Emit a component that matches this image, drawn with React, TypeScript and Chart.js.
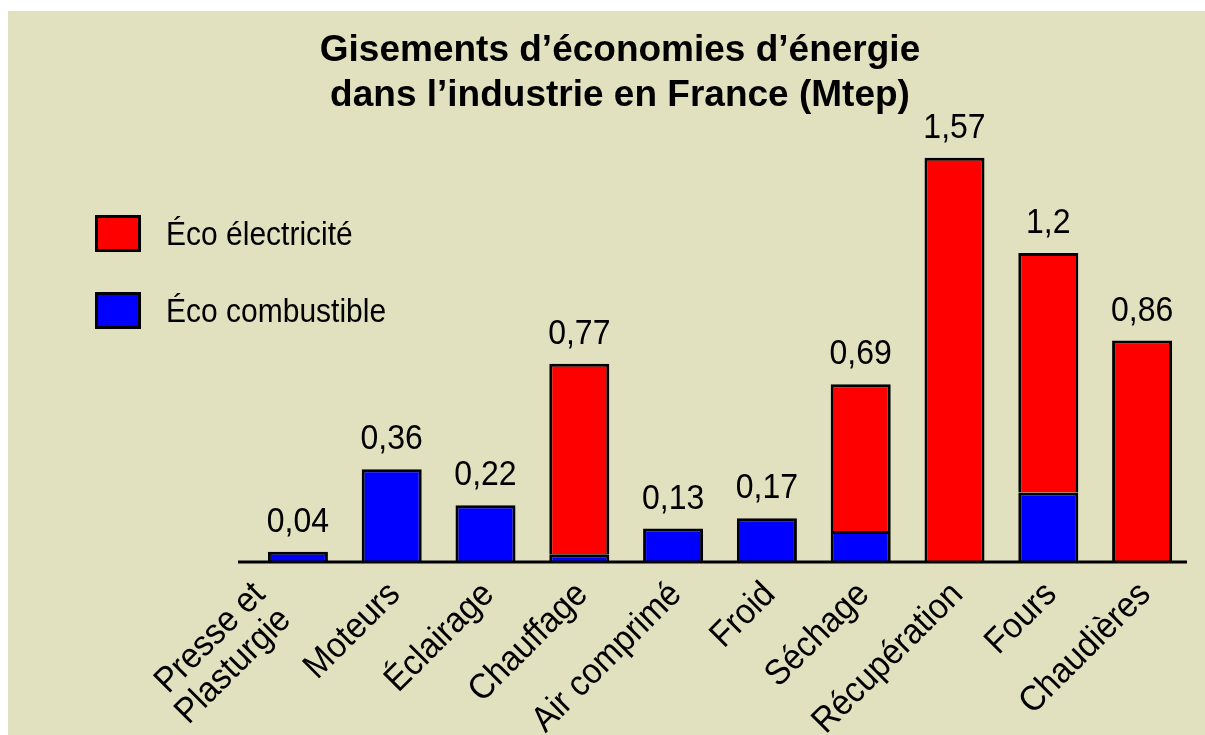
import React, { useEffect, useRef } from "react";
import { Chart, registerables } from "chart.js";

Chart.register(...registerables);

// ---- Data ----
const categories: (string | string[])[] = [
  ["Presse et", "Plasturgie"],
  "Moteurs",
  "Éclairage",
  "Chauffage",
  "Air comprimé",
  "Froid",
  "Séchage",
  "Récupération",
  "Fours",
  "Chaudières",
];
const ecoCombustible: (number | null)[] = [0.04, 0.36, 0.22, 0.03, 0.13, 0.17, 0.12, null, 0.27, null];
const ecoElectricite: (number | null)[] = [null, null, null, 0.74, null, null, 0.57, 1.57, 0.93, 0.86];
const seriesNames = ["Éco combustible", "Éco électricité"];
const titleLines = ["Gisements d’économies d’énergie", "dans l’industrie en France (Mtep)"];
const yMax = 1.7;

const FONT = '"Liberation Sans", Arial, Helvetica, sans-serif';
const STRETCH = 1.08;

const decorPlugin = {
  id: "decor",
  afterDatasetsDraw(chart: any) {
    const { ctx, chartArea, scales } = chart;
    const xs = scales.x;
    const ys = scales.y;
    const y0 = ys.getPixelForValue(0);
    ctx.save();

    // baseline
    ctx.strokeStyle = "#000";
    ctx.lineWidth = 3;
    ctx.beginPath();
    ctx.moveTo(chartArea.left - 13, y0);
    ctx.lineTo(chartArea.right - 2, y0);
    ctx.stroke();

    // totals above bars
    ctx.fillStyle = "#000";
    ctx.font = `32px ${FONT}`;
    ctx.textAlign = "center";
    ctx.textBaseline = "alphabetic";
    chart.data.labels.forEach((_: any, i: number) => {
      let total = 0;
      chart.data.datasets.forEach((ds: any) => {
        const v = ds.data[i];
        if (typeof v === "number") total += v;
      });
      const text = (Math.round(total * 100) / 100).toString().replace(".", ",");
      ctx.save();
      ctx.translate(xs.getPixelForValue(i), ys.getPixelForValue(total) - 20);
      ctx.scale(1, STRETCH);
      ctx.fillText(text, 0, 0);
      ctx.restore();
    });

    // rotated category labels
    ctx.font = `33px ${FONT}`;
    ctx.textAlign = "right";
    ctx.textBaseline = "middle";
    const lh = 36;
    chart.data.labels.forEach((lab: any, i: number) => {
      const lines: string[] = Array.isArray(lab) ? lab : [lab];
      const multi = lines.length > 1;
      ctx.save();
      ctx.translate(xs.getPixelForValue(i) + 3, y0 + 27);
      ctx.rotate(-Math.PI / 4);
      lines.forEach((ln, k) => {
        ctx.save();
        ctx.translate(multi ? -29 : 0, (k - (lines.length - 1) / 2) * lh + (multi ? -11 : 0));
        ctx.scale(1, STRETCH);
        ctx.fillText(ln, 0, 0);
        ctx.restore();
      });
      ctx.restore();
    });

    // legend (electricité first, then combustible)
    const items = chart.data.datasets.slice().reverse();
    ctx.font = `30px ${FONT}`;
    ctx.textAlign = "left";
    ctx.textBaseline = "alphabetic";
    items.forEach((ds: any, k: number) => {
      const bx = 87;
      const by = 204 + k * 77;
      ctx.fillStyle = ds.backgroundColor;
      ctx.fillRect(bx, by, 46, 37);
      ctx.lineWidth = 3;
      ctx.strokeStyle = "#000";
      ctx.strokeRect(bx + 1.5, by + 1.5, 43, 34);
      ctx.fillStyle = "#000";
      ctx.save();
      ctx.translate(158, by + 30);
      ctx.scale(1, STRETCH);
      ctx.fillText(ds.label, 0, 0);
      ctx.restore();
    });

    ctx.restore();
  },
};

export default function App() {
  const ref = useRef<HTMLCanvasElement>(null);

  useEffect(() => {
    if (!ref.current) return;
    const chart = new Chart(ref.current, {
      type: "bar",
      data: {
        labels: categories as any,
        datasets: [
          {
            label: seriesNames[0],
            data: ecoCombustible,
            backgroundColor: "#0000FF",
            borderColor: "#000000",
            borderWidth: 3,
          },
          {
            label: seriesNames[1],
            data: ecoElectricite,
            backgroundColor: "#FF0000",
            borderColor: "#000000",
            borderWidth: 3,
          },
        ],
      },
      options: {
        responsive: false,
        animation: false,
        layout: { padding: { left: 43, right: 16, top: 0, bottom: 173 } },
        datasets: { bar: { barPercentage: 0.64, categoryPercentage: 1 } } as any,
        scales: {
          x: { display: false, stacked: true },
          y: {
            stacked: true,
            min: 0,
            max: yMax,
            display: true,
            grid: { display: false },
            border: { display: false },
            ticks: { display: false },
            afterFit: (s: any) => {
              s.width = 200;
            },
          } as any,
        },
        plugins: {
          legend: { display: false },
          tooltip: { enabled: false },
          title: {
            display: true,
            text: titleLines,
            color: "#000000",
            font: { family: FONT, size: 37, weight: "bold", lineHeight: 1.22 },
            padding: { top: 17, bottom: 6 },
          },
        },
      },
      plugins: [decorPlugin],
    });
    return () => chart.destroy();
  }, []);

  return (
    <div
      style={{
        position: "fixed",
        left: 8,
        top: 11,
        width: 1197,
        height: 724,
        background: "#E1E0BF",
      }}
    >
      <canvas ref={ref} width={1197} height={724} style={{ display: "block" }} />
    </div>
  );
}
